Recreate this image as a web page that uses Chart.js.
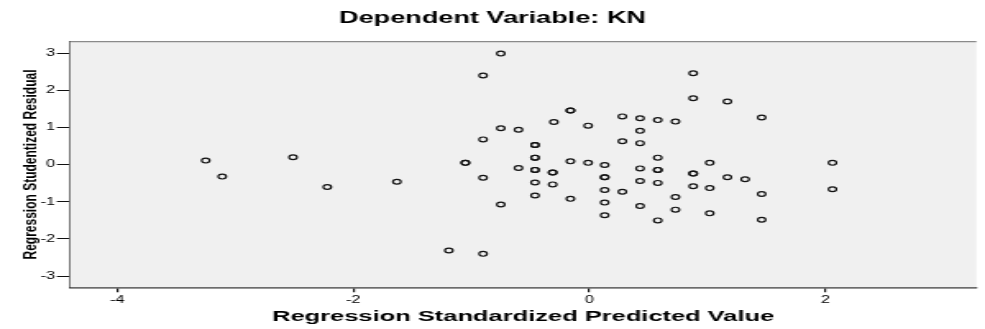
<!DOCTYPE html>
<html>
<head>
<meta charset="utf-8">
<script src="https://cdn.jsdelivr.net/npm/chart.js@4.4.1/dist/chart.umd.min.js"></script>
<style>
  body { margin: 0; background: #fff; }
</style>
</head>
<body>
<canvas id="myChart" width="600" height="329" style="width:985px;height:329px;display:block"></canvas>
<script>
// values
var chartTitle = 'Dependent Variable: KN';
var xTitle = 'Regression Standardized Predicted Value';
var yTitle = 'Regression Studentized Residual';
var xTicks = [-4, -2, 0, 2];
var yTicks = [-3, -2, -1, 0, 1, 2, 3];

var predicted = [
  -3.25, -3.11, -2.51, -2.22, -1.63, -0.75, -0.90, -0.16, -0.16, -0.30,
  -0.01, 0.28, 0.43, 0.58, 0.73, -0.75, -0.60, 0.43, -0.90, 0.28,
  0.43, -0.46, -0.46, -0.46, -0.46, 0.58, -1.05, -1.05, -0.16, -0.01,
  0.13, -0.60, -0.46, -0.46, -0.31, -0.31, 0.43, 0.58, 0.58, -0.90,
  0.13, 0.13, -0.46, -0.31, 0.43, 0.58, 0.13, 0.28, -0.46, -0.16,
  -0.75, 0.13, 0.43, 0.13, 0.58, -1.19, -0.90, 0.88, 0.88, 1.17,
  1.46, 1.02, 2.06, 0.88, 0.88, 1.17, 1.32, 0.88, 1.02, 0.73,
  1.46, 2.06, 0.73, 1.02, 1.46
];
var residual = [
  0.11, -0.32, 0.20, -0.60, -0.46, 2.99, 2.40, 1.46, 1.46, 1.15,
  1.05, 1.30, 1.25, 1.20, 1.16, 0.98, 0.94, 0.91, 0.68, 0.63,
  0.58, 0.53, 0.53, 0.19, 0.19, 0.19, 0.05, 0.05, 0.09, 0.05,
  -0.01, -0.09, -0.14, -0.14, -0.21, -0.21, -0.10, -0.14, -0.14, -0.35,
  -0.34, -0.34, -0.48, -0.53, -0.44, -0.49, -0.68, -0.73, -0.83, -0.92,
  -1.07, -1.02, -1.11, -1.36, -1.50, -2.31, -2.40, 2.46, 1.79, 1.70,
  1.27, 0.05, 0.05, -0.24, -0.24, -0.34, -0.39, -0.58, -0.63, -0.87,
  -0.79, -0.66, -1.21, -1.31, -1.48
];

var points = predicted.map(function (x, i) { return { x: x, y: residual[i] }; });

// the picture is stretched sideways; canvas is drawn narrow and widened by css
var stretch = 985 / 600;

var plotFrame = {
  id: 'plotFrame',
  beforeDatasetsDraw: function (chart) {
    var a = chart.chartArea, ctx = chart.ctx;
    ctx.save();
    ctx.fillStyle = '#f0f0f0';
    ctx.fillRect(a.left, a.top, a.right - a.left, a.bottom - a.top);
    ctx.strokeStyle = '#8a8a8a';
    ctx.lineWidth = 1.2;
    ctx.beginPath();
    ctx.moveTo(a.left, a.top);
    ctx.lineTo(a.right, a.top);
    ctx.stroke();
    ctx.restore();
  },
  afterDraw: function (chart) {
    // y title: not stretched, tall narrow letters like the original
    var ctx = chart.ctx, a = chart.chartArea;
    ctx.save();
    ctx.translate(32 / stretch, (a.top + a.bottom) / 2);
    ctx.scale(1.15 / stretch, 1);
    ctx.rotate(-Math.PI / 2);
    ctx.scale(0.8, 1);
    ctx.font = "bold 15px 'Liberation Sans', Arial, sans-serif";
    ctx.fillStyle = '#000';
    ctx.textAlign = 'center';
    ctx.textBaseline = 'middle';
    ctx.fillText(yTitle, 0, 0);
    ctx.restore();
  }
};

Chart.defaults.font.family = "'Liberation Sans', Arial, sans-serif";
Chart.defaults.color = '#000';

new Chart(document.getElementById('myChart'), {
  type: 'scatter',
  data: {
    datasets: [{
      data: points,
      pointStyle: 'circle',
      pointRadius: 2.4,
      borderWidth: 1.2,
      borderColor: '#111',
      backgroundColor: 'rgba(0,0,0,0)'
    }]
  },
  options: {
    responsive: false,
    animation: false,
    devicePixelRatio: 1,
    events: [],
    layout: { padding: 0 },
    plugins: {
      legend: { display: false },
      tooltip: { enabled: false },
      title: {
        display: true,
        text: chartTitle,
        font: { size: 16.5, weight: 'bold' },
        color: '#000',
        padding: { top: 8.5, bottom: 13.4 }
      }
    },
    scales: {
      x: {
        type: 'linear',
        min: -4.4,
        max: 3.28,
        afterBuildTicks: function (scale) {
          scale.ticks = xTicks.map(function (v) { return { value: v }; });
        },
        afterFit: function (scale) { scale.height = 41.7; },
        ticks: { font: { size: 10 }, padding: 2, maxRotation: 0, color: '#000' },
        grid: { drawOnChartArea: false, drawTicks: true, tickLength: 5, color: '#111', lineWidth: 1.2 },
        border: { display: true, color: '#333', width: 1.6 },
        title: {
          display: true,
          text: xTitle,
          font: { size: 15.5, weight: 'bold' },
          color: '#000',
          padding: { top: 0, bottom: 3 }
        }
      },
      y: {
        type: 'linear',
        min: -3.3,
        max: 3.31,
        afterBuildTicks: function (scale) {
          scale.ticks = yTicks.map(function (v) { return { value: v }; });
        },
        afterFit: function (scale) { scale.width = 42.6; },
        ticks: { font: { size: 10 }, padding: 1, color: '#000' },
        grid: { drawOnChartArea: false, drawTicks: true, tickLength: 8, color: '#111', lineWidth: 1 },
        border: { display: true, color: '#222', width: 1.2 }
      }
    }
  },
  plugins: [plotFrame]
});
</script>
</body>
</html>
